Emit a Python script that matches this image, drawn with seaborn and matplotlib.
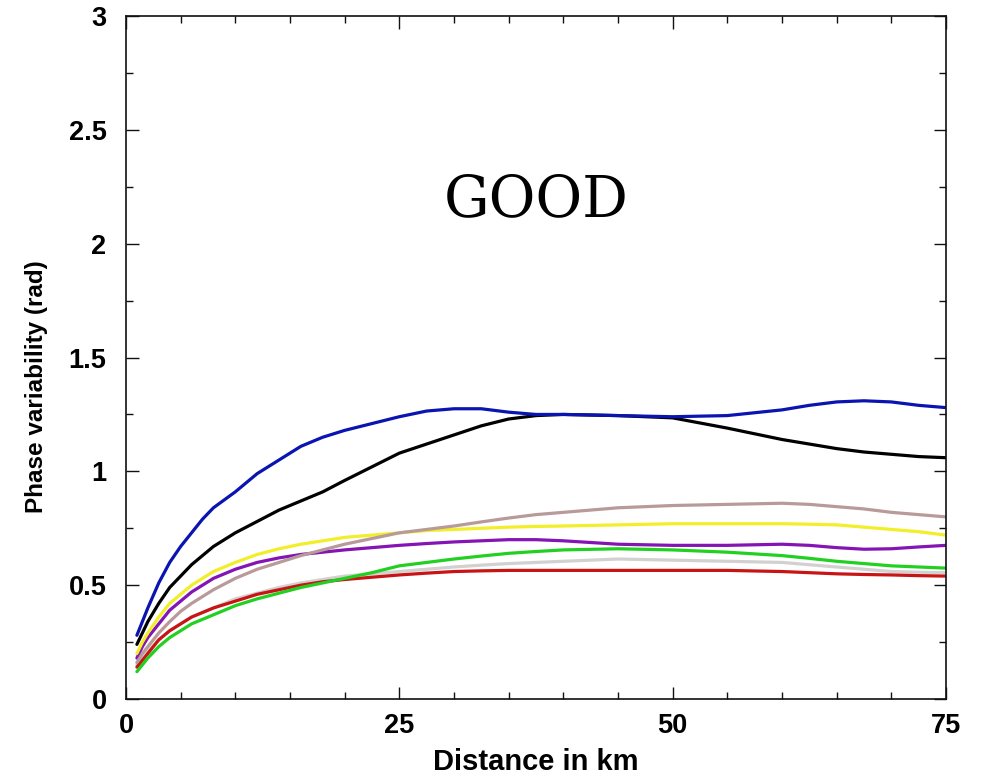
import matplotlib
matplotlib.use("Agg")
import matplotlib.pyplot as plt
from matplotlib.ticker import MultipleLocator
import seaborn as sns
import pandas as pd

# Distance from the source (km) at which phase variability is sampled
distance_km = [1, 1.5, 2, 3, 4, 5, 6, 7, 8, 10, 12, 14, 16, 18, 20, 22.5, 25, 27.5,
               30, 32.5, 35, 37.5, 40, 45, 50, 55, 60, 62.5, 65, 67.5, 70, 72.5, 75]

# Phase variability (rad) for each station trace
blue = [0.28, 0.34, 0.40, 0.51, 0.60, 0.67, 0.73, 0.79, 0.84, 0.91, 0.99, 1.05, 1.11, 1.15,
        1.18, 1.21, 1.24, 1.265, 1.275, 1.275, 1.26, 1.25, 1.25, 1.245, 1.24, 1.245, 1.27,
        1.29, 1.305, 1.31, 1.305, 1.29, 1.28]
black = [0.24, 0.29, 0.34, 0.42, 0.49, 0.54, 0.59, 0.63, 0.67, 0.73, 0.78, 0.83, 0.87, 0.91,
         0.96, 1.02, 1.08, 1.12, 1.16, 1.20, 1.23, 1.245, 1.25, 1.245, 1.235, 1.19, 1.14,
         1.12, 1.10, 1.085, 1.075, 1.065, 1.06]
yellow = [0.20, 0.25, 0.29, 0.36, 0.42, 0.46, 0.50, 0.53, 0.56, 0.60, 0.635, 0.66, 0.68, 0.695,
          0.71, 0.72, 0.73, 0.74, 0.745, 0.75, 0.755, 0.758, 0.76, 0.765, 0.77, 0.77, 0.77,
          0.768, 0.765, 0.755, 0.745, 0.735, 0.72]
purple = [0.18, 0.23, 0.27, 0.33, 0.39, 0.43, 0.47, 0.50, 0.53, 0.57, 0.60, 0.62, 0.635, 0.645,
          0.655, 0.665, 0.675, 0.683, 0.69, 0.695, 0.70, 0.70, 0.695, 0.68, 0.675, 0.675, 0.68,
          0.675, 0.665, 0.658, 0.66, 0.668, 0.675]
brown = [0.16, 0.20, 0.23, 0.29, 0.34, 0.385, 0.42, 0.45, 0.48, 0.53, 0.57, 0.60, 0.63, 0.655,
         0.68, 0.705, 0.73, 0.745, 0.76, 0.778, 0.795, 0.81, 0.82, 0.84, 0.85, 0.855, 0.86,
         0.855, 0.845, 0.835, 0.82, 0.81, 0.80]
green = [0.12, 0.15, 0.18, 0.23, 0.27, 0.30, 0.33, 0.35, 0.37, 0.41, 0.44, 0.465, 0.49, 0.51,
         0.53, 0.555, 0.585, 0.60, 0.615, 0.628, 0.64, 0.648, 0.655, 0.66, 0.655, 0.645, 0.63,
         0.618, 0.605, 0.595, 0.585, 0.58, 0.575]
gray = [0.15, 0.18, 0.21, 0.26, 0.30, 0.33, 0.36, 0.38, 0.40, 0.44, 0.465, 0.49, 0.51, 0.525,
        0.54, 0.55, 0.56, 0.57, 0.58, 0.588, 0.595, 0.60, 0.605, 0.615, 0.61, 0.605, 0.60,
        0.59, 0.58, 0.57, 0.56, 0.557, 0.555]
red = [0.14, 0.17, 0.20, 0.26, 0.30, 0.33, 0.36, 0.38, 0.40, 0.43, 0.46, 0.48, 0.50, 0.515,
       0.525, 0.535, 0.545, 0.553, 0.56, 0.563, 0.565, 0.565, 0.565, 0.565, 0.565, 0.565, 0.56,
       0.555, 0.55, 0.547, 0.545, 0.542, 0.54]

x_ticks = [0, 25, 50, 75]
x_tick_labels = ["0", "25", "50", "75"]
y_ticks = [0, 0.5, 1, 1.5, 2, 2.5, 3]
y_tick_labels = ["0", "0.5", "1", "1.5", "2", "2.5", "3"]

series = {
    "gray": gray,
    "red": red,
    "green": green,
    "purple": purple,
    "yellow": yellow,
    "brown": brown,
    "black": black,
    "blue": blue,
}
colors = {
    "gray": "#d2d0d0",
    "red": "#c81414",
    "green": "#22d022",
    "purple": "#8414b4",
    "yellow": "#f2ee2a",
    "brown": "#b89a9a",
    "black": "#000000",
    "blue": "#0a14b0",
}

frames = [pd.DataFrame({"distance": distance_km, "variability": vals, "trace": name})
          for name, vals in series.items()]
data = pd.concat(frames, ignore_index=True)

sns.set_style("white")
plt.rcParams["font.family"] = ["Liberation Sans", "DejaVu Sans"]
plt.rcParams["font.weight"] = "bold"
plt.rcParams["text.color"] = "black"
plt.rcParams["axes.labelcolor"] = "black"

fig = plt.figure(figsize=(9.81, 7.78), dpi=100)
ax = fig.add_axes([0.1284, 0.1015, 0.8359, 0.8779])

sns.lineplot(data=data, x="distance", y="variability", hue="trace",
             palette=colors, linewidth=2.3, legend=False, ax=ax, sort=True)

ax.set_xlim(0, 75)
ax.set_ylim(0, 3)
ax.set_xticks(x_ticks)
ax.set_xticklabels(x_tick_labels)
ax.set_yticks(y_ticks)
ax.set_yticklabels(y_tick_labels)
ax.xaxis.set_minor_locator(MultipleLocator(5))
ax.yaxis.set_minor_locator(MultipleLocator(0.25))

ax.tick_params(which="both", direction="in", top=True, right=True,
               bottom=True, left=True, color="#111111", width=1.0)
ax.tick_params(which="major", length=9, labelsize=19.5, labelcolor="black")
ax.tick_params(axis="x", which="major", pad=10)
ax.tick_params(axis="y", which="major", pad=14)
ax.tick_params(which="minor", length=5)
for lbl in ax.get_xticklabels() + ax.get_yticklabels():
    lbl.set_fontweight("bold")

for spine in ax.spines.values():
    spine.set_visible(True)
    spine.set_color("#111111")
    spine.set_linewidth(1.2)

ax.set_xlabel("Distance in km", fontsize=21, fontweight="bold", labelpad=6.5, color="black")
ax.set_ylabel("Phase variability (rad)", fontsize=17.5, fontweight="bold", color="black")
ax.yaxis.set_label_coords(-0.095, 0.458)

ax.text(37.5, 2.19, "GOOD", fontsize=41, family="DejaVu Serif", fontweight="normal",
        ha="center", va="center", color="black")

fig.savefig("out.png", dpi=100)
